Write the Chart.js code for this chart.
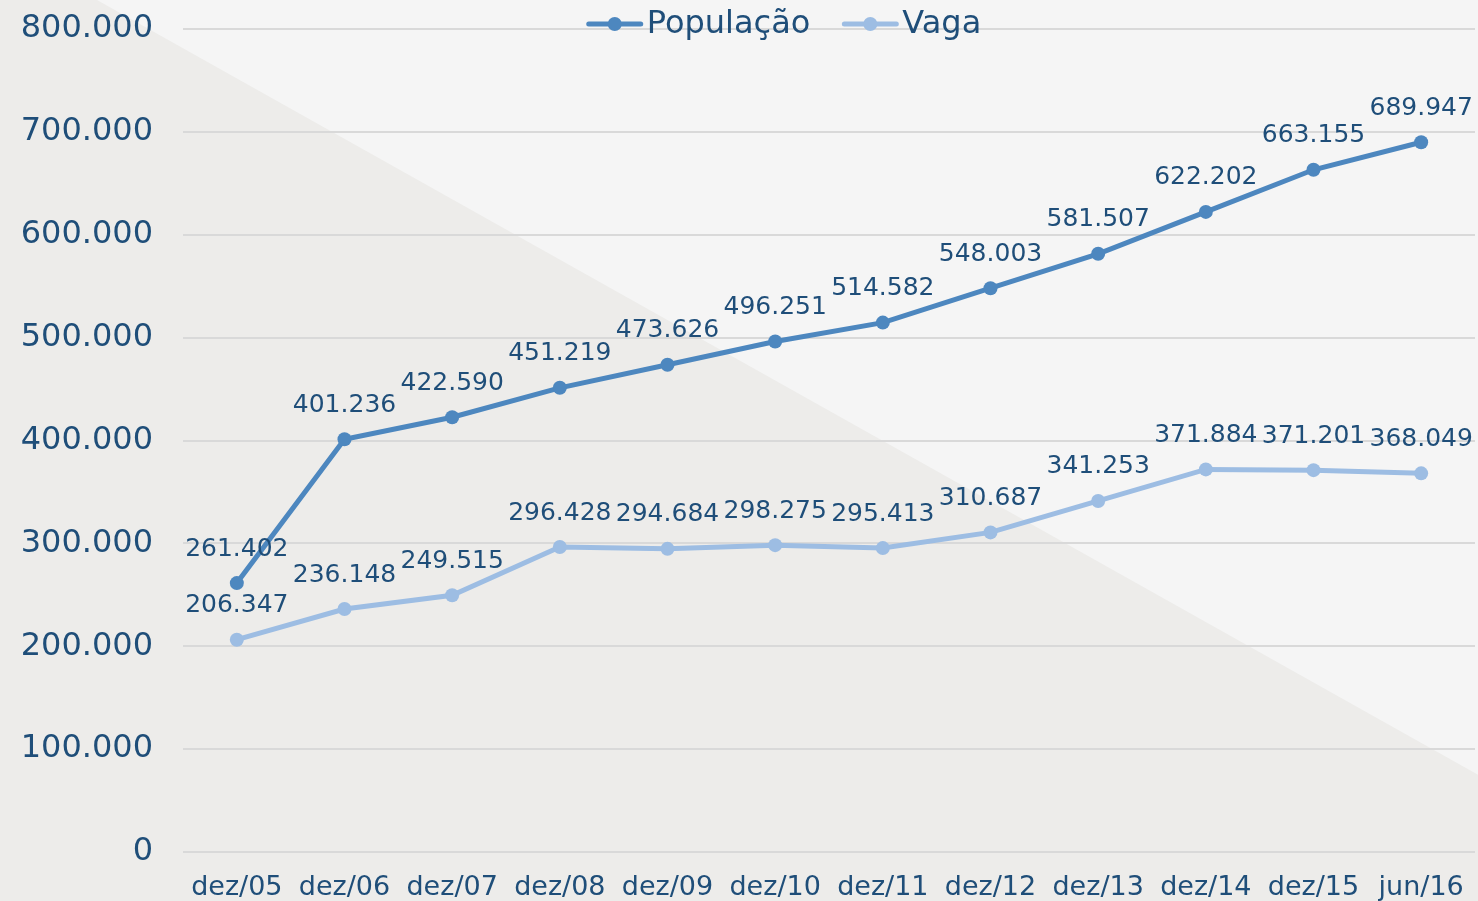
<!DOCTYPE html>
<html>
<head>
<meta charset="utf-8">
<script src="https://cdn.jsdelivr.net/npm/chart.js@4.4.1/dist/chart.umd.min.js"></script>
<style>
  html, body { margin: 0; padding: 0; background: #edecea; }
  #wrap { width: 1478px; height: 901px; }
</style>
</head>
<body>
<div id="wrap"><canvas id="grafico" width="1478" height="901"></canvas></div>
<script>
// Dados
const categorias = ["dez/05", "dez/06", "dez/07", "dez/08", "dez/09", "dez/10", "dez/11", "dez/12", "dez/13", "dez/14", "dez/15", "jun/16"];
const populacao = [261402, 401236, 422590, 451219, 473626, 496251, 514582, 548003, 581507, 622202, 663155, 689947];
const vaga = [206347, 236148, 249515, 296428, 294684, 298275, 295413, 310687, 341253, 371884, 371201, 368049];
const ticksY = [0, 100000, 200000, 300000, 400000, 500000, 600000, 700000, 800000];

const corTexto = "#1f4e79";
const corPop = "#4d87bf";
const corVaga = "#9dbde3";
const fonte = "'DejaVu Sans', sans-serif";

// formato 1.234.567
function fmt(v) {
    return String(v).replace(/\B(?=(\d{3})+(?!\d))/g, ".");
}

// fundo com diagonal
const fundo = {
    id: "fundo",
    beforeDraw(chart) {
        const c = chart.ctx, w = chart.width, h = chart.height;
        c.save();
        c.fillStyle = "#edecea";
        c.fillRect(0, 0, w, h);
        c.fillStyle = "#f5f5f5";
        c.beginPath();
        c.moveTo(97, 0);
        c.lineTo(w, 0);
        c.lineTo(w, h * 0.86);
        c.closePath();
        c.fill();
        c.restore();
    }
};

// rótulos de valor acima dos pontos
const rotulos = {
    id: "rotulos",
    afterDatasetsDraw(chart) {
        const c = chart.ctx;
        c.save();
        c.font = "25px " + fonte;
        c.fillStyle = corTexto;
        c.textAlign = "center";
        c.textBaseline = "middle";
        chart.data.datasets.forEach((ds, i) => {
            chart.getDatasetMeta(i).data.forEach((pt, j) => {
                c.fillText(fmt(ds.data[j]), pt.x, pt.y - 34);
            });
        });
        c.restore();
    }
};

// legenda desenhada sobre a área do gráfico
const legenda = {
    id: "legenda",
    afterDraw(chart) {
        const c = chart.ctx;
        c.save();
        c.font = "32px " + fonte;
        c.textBaseline = "middle";
        const y = 24;
        const itens = chart.data.datasets.map(ds => ({ txt: ds.label, cor: ds.borderColor }));
        const larg = itens.map(it => 56 + 4 + c.measureText(it.txt).width);
        const gap = 32;
        const total = larg.reduce((a, b) => a + b, 0) + gap * (itens.length - 1);
        let x = 784 - total / 2;
        itens.forEach((it, i) => {
            c.strokeStyle = it.cor;
            c.lineWidth = 5;
            c.lineCap = "round";
            c.beginPath();
            c.moveTo(x + 2, y);
            c.lineTo(x + 54, y);
            c.stroke();
            c.fillStyle = it.cor;
            c.beginPath();
            c.arc(x + 28, y, 7, 0, Math.PI * 2);
            c.fill();
            c.fillStyle = corTexto;
            c.fillText(it.txt, x + 60, y + 1);
            x += larg[i] + gap;
        });
        c.restore();
    }
};

const ctx = document.getElementById("grafico").getContext("2d");
new Chart(ctx, {
    type: "line",
    data: {
        labels: categorias,
        datasets: [{
            label: "População",
            data: populacao,
            borderColor: corPop,
            backgroundColor: corPop,
            borderWidth: 5,
            pointRadius: 7,
            pointHoverRadius: 7,
            pointBorderWidth: 0,
            tension: 0
        }, {
            label: "Vaga",
            data: vaga,
            borderColor: corVaga,
            backgroundColor: corVaga,
            borderWidth: 5,
            pointRadius: 7,
            pointHoverRadius: 7,
            pointBorderWidth: 0,
            tension: 0
        }]
    },
    options: {
        responsive: false,
        animation: false,
        layout: { autoPadding: false, padding: { top: 29, right: 3, left: 0, bottom: 0 } },
        plugins: {
            legend: { display: false },
            tooltip: { enabled: false }
        },
        scales: {
            x: {
                offset: true,
                grid: { display: false },
                border: { display: false },
                ticks: {
                    color: corTexto,
                    font: { family: fonte, size: 27 },
                    padding: 12,
                    maxRotation: 0,
                    autoSkip: false
                },
                afterFit(scale) {
                    scale.height = 49;
                    scale.paddingLeft = 0;
                    scale.paddingRight = 0;
                }
            },
            y: {
                min: 0,
                max: 800000,
                afterBuildTicks(scale) { scale.ticks = ticksY.map(v => ({ value: v })); },
                grid: { color: "#d9d9d9", lineWidth: 2, drawTicks: false },
                border: { display: false },
                ticks: {
                    color: corTexto,
                    font: { family: fonte, size: 32 },
                    padding: 30,
                    callback: v => fmt(v)
                },
                afterFit(scale) {
                    scale.width = 183;
                    scale.paddingTop = 0;
                    scale.paddingBottom = 0;
                }
            }
        }
    },
    plugins: [fundo, rotulos, legenda]
});
</script>
</body>
</html>
